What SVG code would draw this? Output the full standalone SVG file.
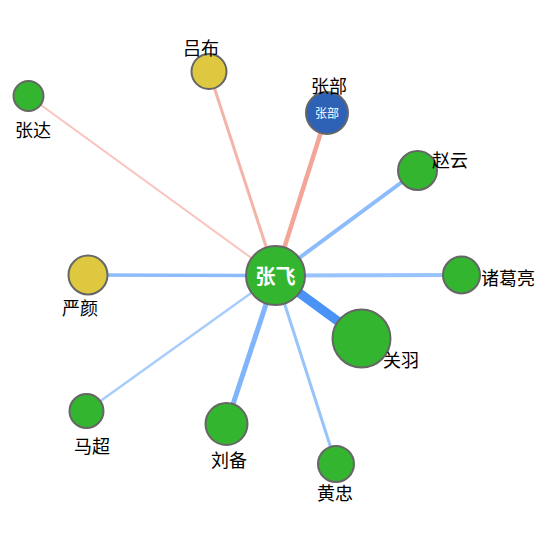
<svg xmlns="http://www.w3.org/2000/svg" width="550" height="550" viewBox="0 0 550 550">
<style>
.node{stroke:#666;stroke-width:2}
.g{fill:#33b52f}
.y{fill:#ddc83f}
.b{fill:#2e62b6}
.lbl{font-family:"Liberation Sans","Noto Sans CJK SC",sans-serif;font-size:18px;fill:#000;text-anchor:middle}
.edge{fill:none;stroke-linecap:butt}
</style>
<rect width="550" height="550" fill="#fff"/>
<g id="connectors">
<line class="edge" x1="275.5" y1="275.5" x2="28.5" y2="96" stroke="#f8c4bc" stroke-width="2"/>
<line class="edge" x1="275.5" y1="275.5" x2="209" y2="71.5" stroke="#f5b4aa" stroke-width="3"/>
<line class="edge" x1="275.5" y1="275.5" x2="327" y2="113" stroke="#f3a698" stroke-width="4.5"/>
<line class="edge" x1="275.5" y1="275.5" x2="417.5" y2="170.5" stroke="#8cbcfb" stroke-width="4"/>
<line class="edge" x1="275.5" y1="275.5" x2="461.5" y2="275" stroke="#98c4fb" stroke-width="4"/>
<line class="edge" x1="275.5" y1="275.5" x2="88" y2="275" stroke="#8cbcfb" stroke-width="3.5"/>
<line class="edge" x1="275.5" y1="275.5" x2="86.5" y2="411" stroke="#a8ccfb" stroke-width="2.5"/>
<line class="edge" x1="275.5" y1="275.5" x2="226.5" y2="424" stroke="#80b4fb" stroke-width="5"/>
<line class="edge" x1="275.5" y1="275.5" x2="336" y2="464" stroke="#98c4fb" stroke-width="3"/>
<line class="edge" x1="275.5" y1="275.5" x2="361.5" y2="338.5" stroke="#4a92f6" stroke-width="9"/>
</g>
<g id="n-zhangda"><circle class="node g" cx="28.5" cy="96" r="15"/><text class="lbl" x="33" y="137">张达</text></g>
<g id="n-lvbu"><circle class="node y" cx="209" cy="71.5" r="17.5"/><text class="lbl" x="201" y="55">吕布</text></g>
<g id="n-zhangbu"><circle class="node b" cx="327" cy="113" r="21"/><text x="327" y="117.5" font-family="'Liberation Sans','Noto Sans CJK SC',sans-serif" font-size="12" fill="#fff" text-anchor="middle">张部</text><text class="lbl" x="329" y="93">张部</text></g>
<g id="n-zhaoyun"><circle class="node g" cx="417.5" cy="170.5" r="19.5"/><text class="lbl" x="450" y="167">赵云</text></g>
<g id="n-zhuge"><circle class="node g" cx="461.5" cy="275" r="18.5"/><text class="lbl" x="508" y="285">诸葛亮</text></g>
<g id="n-yanyan"><circle class="node y" cx="88" cy="275" r="19.5"/><text class="lbl" x="80" y="315">严颜</text></g>
<g id="n-machao"><circle class="node g" cx="86.5" cy="411" r="17"/><text class="lbl" x="92" y="453">马超</text></g>
<g id="n-liubei"><circle class="node g" cx="226.5" cy="424" r="21"/><text class="lbl" x="229" y="467">刘备</text></g>
<g id="n-huangzhong"><circle class="node g" cx="336" cy="464" r="18"/><text class="lbl" x="335" y="500">黄忠</text></g>
<g id="n-guanyu"><circle class="node g" cx="361.5" cy="338.5" r="29"/><text class="lbl" x="401" y="367">关羽</text></g>
<g id="n-zhangfei"><circle class="node g" cx="275.5" cy="275.5" r="29.5"/><text x="275.5" y="284" font-family="'Liberation Sans','Noto Sans CJK SC',sans-serif" font-size="20" font-weight="bold" fill="#fff" text-anchor="middle">张飞</text></g>
</svg>
